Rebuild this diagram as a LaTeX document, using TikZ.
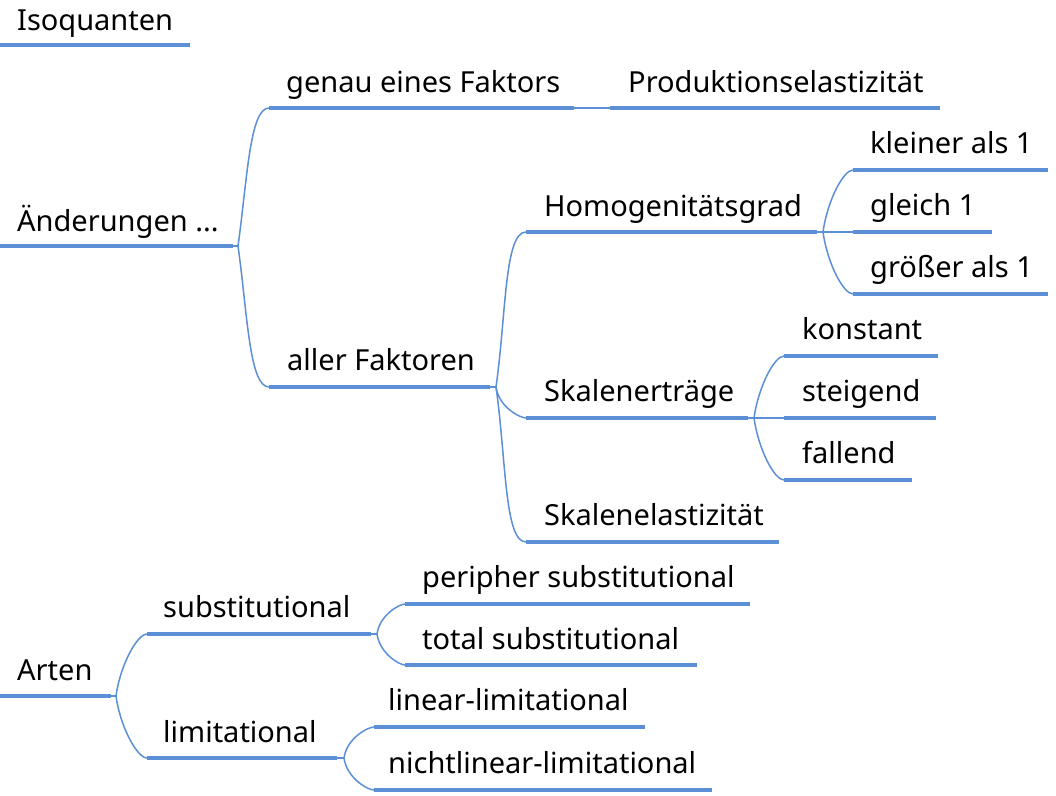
\documentclass[tikz,border=0pt]{standalone}
\usepackage{fontspec}
\setmainfont{Noto Sans}
\definecolor{mmblue}{RGB}{91,143,214}
\begin{document}
\begin{tikzpicture}[x=1pt,y=-1pt,
  lbl/.style={anchor=base west, inner sep=0pt, font=\fontsize{29}{34}\selectfont},
  uline/.style={draw=mmblue, line width=4pt},
  conn/.style={draw=mmblue, line width=1.5pt},
  up/.style={out=82,in=180,out looseness=1.2,in looseness=0.35},
  dn/.style={out=-82,in=180,out looseness=1.2,in looseness=0.35}]
\useasboundingbox (0,0) rectangle (1056,795);
% Isoquanten
\node[lbl] (iso) at (17,30) {Isoquanten};
\draw[uline] (0,45) coordinate (isoA) -- (190,45) coordinate (isoB);
% Aenderungen
\node[lbl] (aend) at (17,231) {Änderungen ...};
\draw[uline] (0,246) coordinate (aendA) -- (233,246) coordinate (aendB);
\coordinate (aendJ) at (238,246);
\node[lbl] (gen) at (286,92) {genau eines Faktors};
\draw[uline] (269,108) coordinate (genA) -- (574,108) coordinate (genB);
\node[lbl] (prod) at (628,92) {Produktionselastizität};
\draw[uline] (610,108) coordinate (prodA) -- (940,108) coordinate (prodB);
\node[lbl] (all) at (287,370) {aller Faktoren};
\draw[uline] (269,387) coordinate (allA) -- (490,387) coordinate (allB);
\coordinate (allJ) at (496,387);
\node[lbl] (hom) at (544,216) {Homogenitätsgrad};
\draw[uline] (526,232) coordinate (homA) -- (817,232) coordinate (homB);
\coordinate (homJ) at (823,232);
\node[lbl] (kl) at (870,153) {kleiner als 1};
\draw[uline] (853,170) coordinate (klA) -- (1048,170) coordinate (klB);
\node[lbl] (gl) at (870,215) {gleich 1};
\draw[uline] (853,232) coordinate (glA) -- (992,232) coordinate (glB);
\node[lbl] (gr) at (870,277) {größer als 1};
\draw[uline] (853,294) coordinate (grA) -- (1048,294) coordinate (grB);
\node[lbl] (ska) at (544,401) {Skalenerträge};
\draw[uline] (526,418) coordinate (skaA) -- (748,418) coordinate (skaB);
\coordinate (skaJ) at (754,418);
\node[lbl] (ko) at (802,339) {konstant};
\draw[uline] (784,356) coordinate (koA) -- (938,356) coordinate (koB);
\node[lbl] (st) at (802,401) {steigend};
\draw[uline] (784,418) coordinate (stA) -- (936,418) coordinate (stB);
\node[lbl] (fa) at (802,463) {fallend};
\draw[uline] (784,480) coordinate (faA) -- (912,480) coordinate (faB);
\node[lbl] (ske) at (544,525) {Skalenelastizität};
\draw[uline] (526,542) coordinate (skeA) -- (779,542) coordinate (skeB);
% Arten
\node[lbl] (art) at (17,680) {Arten};
\draw[uline] (0,696) coordinate (artA) -- (111,696) coordinate (artB);
\coordinate (artJ) at (116,696);
\node[lbl] (sub) at (163,617) {substitutional};
\draw[uline] (147,634) coordinate (subA) -- (371,634) coordinate (subB);
\coordinate (subJ) at (377,634);
\node[lbl] (per) at (422,587) {peripher substitutional};
\draw[uline] (405,604) coordinate (perA) -- (750,604) coordinate (perB);
\node[lbl] (tot) at (422,649) {total substitutional};
\draw[uline] (405,665) coordinate (totA) -- (697,665) coordinate (totB);
\node[lbl] (lim) at (163,742) {limitational};
\draw[uline] (147,758) coordinate (limA) -- (337,758) coordinate (limB);
\coordinate (limJ) at (344,758);
\node[lbl] (lin) at (388,710) {linear-limitational};
\draw[uline] (374,727) coordinate (linA) -- (645,727) coordinate (linB);
\node[lbl] (nli) at (388,773) {nichtlinear-limitational};
\draw[uline] (374,790) coordinate (nliA) -- (712,790) coordinate (nliB);
% connectors
\draw[conn] (aendB) -- (aendJ);
\draw[conn] (aendJ) to[up] (genA);
\draw[conn] (aendJ) to[dn] (allA);
\draw[conn] (genB) -- (prodA);
\draw[conn] (allB) -- (allJ);
\draw[conn] (allJ) to[up] (homA);
\draw[conn] (allJ) to[dn] (skaA);
\draw[conn] (allJ) to[dn] (skeA);
\draw[conn] (homB) -- (homJ);
\draw[conn] (homJ) to[up] (klA);
\draw[conn] (homJ) -- (glA);
\draw[conn] (homJ) to[dn] (grA);
\draw[conn] (skaB) -- (skaJ);
\draw[conn] (skaJ) to[up] (koA);
\draw[conn] (skaJ) -- (stA);
\draw[conn] (skaJ) to[dn] (faA);
\draw[conn] (artB) -- (artJ);
\draw[conn] (artJ) to[up] (subA);
\draw[conn] (artJ) to[dn] (limA);
\draw[conn] (subB) -- (subJ);
\draw[conn] (subJ) to[up] (perA);
\draw[conn] (subJ) to[dn] (totA);
\draw[conn] (limB) -- (limJ);
\draw[conn] (limJ) to[up] (linA);
\draw[conn] (limJ) to[dn] (nliA);
\end{tikzpicture}
\end{document}
